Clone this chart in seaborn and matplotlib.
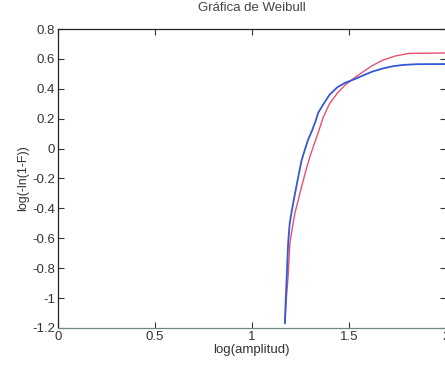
import matplotlib
matplotlib.use("Agg")
import matplotlib.pyplot as plt
import seaborn as sns
import pandas as pd

blue_x = [1.17, 1.175, 1.18, 1.187, 1.195, 1.204, 1.215, 1.23, 1.245, 1.256, 1.275, 1.29, 1.31, 1.33, 1.342,
          1.37, 1.40, 1.44, 1.48, 1.53, 1.574, 1.62, 1.677, 1.73, 1.78, 1.85, 2.0]
blue_y = [-1.17, -1.0, -0.85, -0.63, -0.5, -0.43, -0.35, -0.25, -0.15, -0.08, 0.0, 0.06, 0.12, 0.19, 0.24,
          0.30, 0.36, 0.41, 0.44, 0.465, 0.49, 0.515, 0.537, 0.552, 0.56, 0.565, 0.566]
red_x = [1.17, 1.178, 1.187, 1.196, 1.21, 1.222, 1.24, 1.256, 1.28, 1.30, 1.316, 1.34, 1.368, 1.40, 1.44,
         1.48, 1.53, 1.574, 1.62, 1.677, 1.74, 1.81, 2.0]
red_y = [-1.17, -1.0, -0.85, -0.63, -0.52, -0.43, -0.34, -0.255, -0.14, -0.05, 0.01, 0.10, 0.21, 0.30, 0.37,
         0.425, 0.475, 0.515, 0.555, 0.593, 0.62, 0.637, 0.64]

x_ticks = [0, 0.5, 1, 1.5, 2]
y_ticks = [-1.2, -1, -0.8, -0.6, -0.4, -0.2, 0, 0.2, 0.4, 0.6, 0.8]

sns.set_style("white")
plt.rcParams['font.family'] = ['Liberation Sans', 'DejaVu Sans']

fig = plt.figure(figsize=(4.45, 3.68), dpi=100)
ax = fig.add_axes([0.130, 0.109, 0.872, 0.812])

df_b = pd.DataFrame({"x": blue_x, "y": blue_y})
df_r = pd.DataFrame({"x": red_x, "y": red_y})
sns.lineplot(data=df_r, x="x", y="y", sort=False, estimator=None, color="#e8506e", linewidth=1.0, ax=ax)
sns.lineplot(data=df_b, x="x", y="y", sort=False, estimator=None, color="#3558d8", linewidth=1.3, ax=ax)

ax.set_xlim(0, 2)
ax.set_ylim(-1.2, 0.8)
ax.set_xticks(x_ticks)
ax.set_xticklabels(["0", "0.5", "1", "1.5", "2"])
ax.set_yticks(y_ticks)
ax.set_yticklabels(["-1.2", "-1", "-0.8", "-0.6", "-0.4", "-0.2", "0", "0.2", "0.4", "0.6", "0.8"])
ax.tick_params(direction="in", length=4, width=0.8, labelsize=9.5, colors="#333333",
               top=True, right=True, bottom=True, left=True, pad=2)
for s in ax.spines.values():
    s.set_color("#222222")
    s.set_linewidth(0.9)
ax.spines["bottom"].set_color("#6a8a80")
ax.set_xlabel("log(amplitud)", fontsize=9.5, color="#333333", labelpad=1)
ax.set_ylabel("log(-ln(1-F))", fontsize=9, color="#333333", labelpad=2)
ax.set_title("Gráfica de Weibull", fontsize=9.5, color="#444444", pad=13)

fig.savefig("out.png", dpi=100)
